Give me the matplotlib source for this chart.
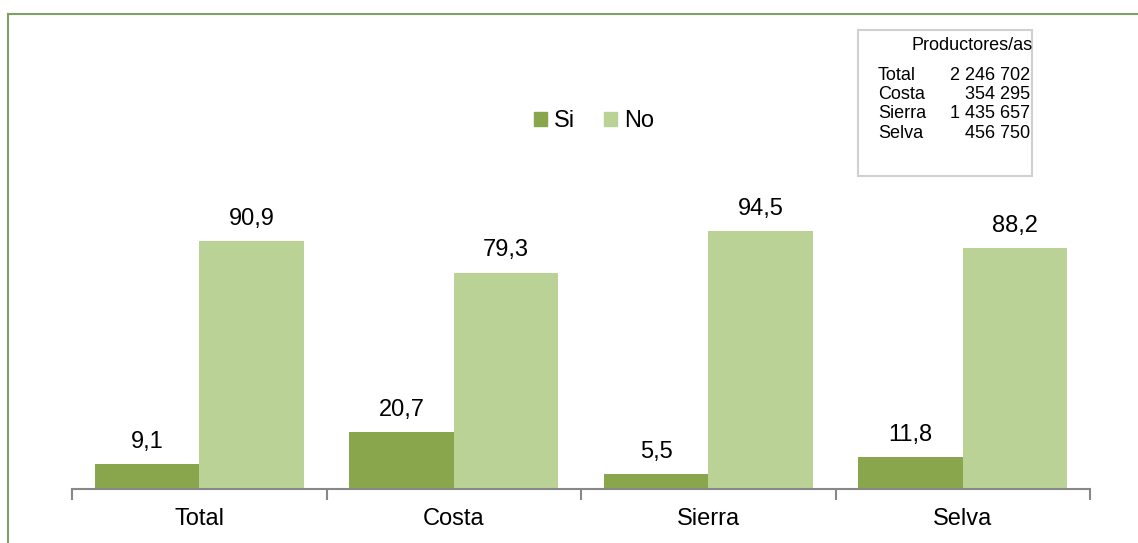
import matplotlib
matplotlib.use("Agg")
import numpy as np
from matplotlib import pyplot as plt
from matplotlib.patches import Rectangle
from matplotlib.lines import Line2D

categories = ["Total", "Costa", "Sierra", "Selva"]
si_values = [9.1, 20.7, 5.5, 11.8]
no_values = [90.9, 79.3, 94.5, 88.2]
series_names = ["Si", "No"]
box_title = "Productores/as"
box_rows = ["Total", "Costa", "Sierra", "Selva"]
box_counts = ["2 246 702", "354 295", "1 435 657", "456 750"]

si_color = "#8AA64D"
no_color = "#BBD297"
fonts = ["Liberation Sans Narrow", "Liberation Sans", "DejaVu Sans"]
plt.rcParams["font.family"] = fonts

W, H = 1138, 543
fig = plt.figure(figsize=(W / 100, H / 100), dpi=100)

# axes in pixel coordinates of the reference
x0, x1, y_base = 72, 1090, 489
px_per_unit = 2.73
ax = fig.add_axes([x0 / W, (H - y_base) / H, (x1 - x0) / W, 100 * px_per_unit / H])

x = np.arange(len(categories))
bw = 0.41
ax.bar(x - bw / 2, si_values, bw, color=si_color, label=series_names[0])
ax.bar(x + bw / 2, no_values, bw, color=no_color, label=series_names[1])

for xi, v in zip(x - bw / 2, si_values):
    ax.annotate(f"{v:.1f}".replace(".", ","), (xi, v), xytext=(0, 8),
                textcoords="offset points", ha="center", va="bottom", fontsize=17)
for xi, v in zip(x + bw / 2, no_values):
    ax.annotate(f"{v:.1f}".replace(".", ","), (xi, v), xytext=(0, 8),
                textcoords="offset points", ha="center", va="bottom", fontsize=17)

ax.set_xlim(-0.5, len(categories) - 0.5)
ax.set_ylim(0, 100)
ax.set_xticks(np.arange(len(categories) + 1) - 0.5)
ax.set_xticklabels([])
ax.set_xticks(x, minor=True)
ax.set_xticklabels(categories, minor=True, fontsize=17)
ax.tick_params(axis="x", which="major", direction="out", length=8, width=1.5, color="#888888")
ax.tick_params(axis="x", which="minor", length=0, pad=14)
ax.set_yticks([])
for s in ["top", "right", "left"]:
    ax.spines[s].set_visible(False)
ax.spines["bottom"].set_color("#888888")
ax.spines["bottom"].set_linewidth(1.5)
ax.set_facecolor("none")

# legend
handles = [Rectangle((0, 0), 1, 1, color=si_color), Rectangle((0, 0), 1, 1, color=no_color)]
fig.legend(handles, series_names, loc="center", bbox_to_anchor=(594 / W, 1 - 121 / H),
           ncol=2, frameon=False, fontsize=17, handlelength=0.55, handleheight=0.55,
           handletextpad=0.3, columnspacing=1.2, borderpad=0)

# info box
fig.patches.append(Rectangle((858 / W, 1 - 176 / H), 174 / W, 146 / H, transform=fig.transFigure,
                             fill=False, edgecolor="#D0D0D0", linewidth=1.5))
fig.text(972 / W, 1 - 45 / H, box_title, ha="center", va="center", fontsize=13)
for i, (name, cnt) in enumerate(zip(box_rows, box_counts)):
    yy = 1 - (75 + 19.5 * i) / H
    fig.text(878 / W, yy, name, ha="left", va="center", fontsize=13)
    fig.text(1030 / W, yy, cnt, ha="right", va="center", fontsize=13)

# outer green frame (top and left edges)
border = "#7DA162"
fig.lines.append(Line2D([8 / W, 1.0], [1 - 14 / H, 1 - 14 / H], transform=fig.transFigure,
                        color=border, linewidth=1.5))
fig.lines.append(Line2D([8 / W, 8 / W], [1 - 14 / H, 0], transform=fig.transFigure,
                        color=border, linewidth=1.5))

fig.savefig("out.png", dpi=100)
